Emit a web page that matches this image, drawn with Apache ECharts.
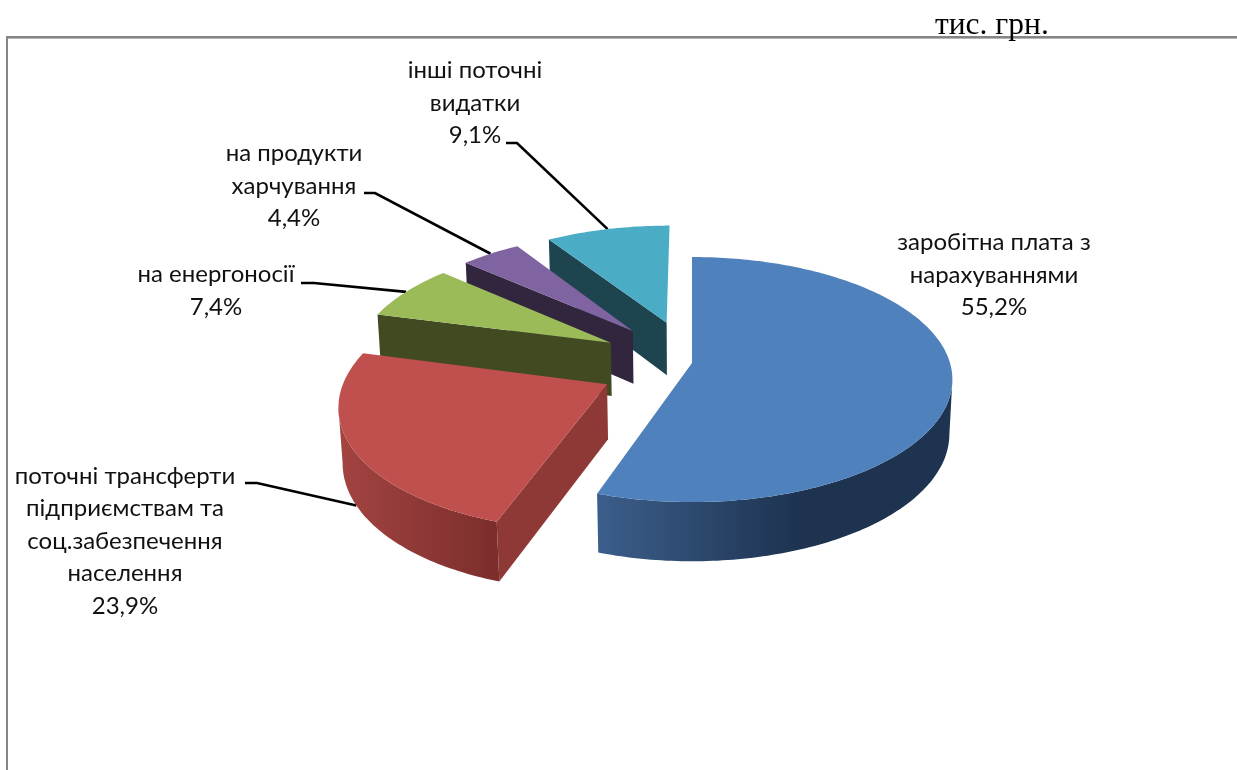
<!DOCTYPE html>
<html>
<head>
<meta charset="utf-8">
<style>
  html, body { margin: 0; padding: 0; background: #fff; }
  #chart { width: 1237px; height: 770px; }
</style>
</head>
<body>
<div id="chart"></div>
<script src="https://cdn.jsdelivr.net/npm/echarts@6/dist/echarts.min.js"></script>
<script>
const categories = [
  'заробітна плата з\nнарахуваннями',
  'поточні трансферти\nпідприємствам та\nсоц.забезпечення\nнаселення',
  'на енергоносії',
  'на продукти\nхарчування',
  'інші поточні\nвидатки'
];
const shares = [55.2, 23.9, 7.4, 4.4, 9.1];
const unit = 'тис. грн.';

// slice pull-out, in pie radii
const explode = [0, 0.365, 0.365, 0.365, 0.365];

const topColors = ['#4f81bd', '#c0504d', '#9bbb59', '#8064a2', '#4bacc6'];
const edgeColors = ['#1d3350', '#8e3936', '#414a21', '#32263f', '#1e444f'];
const wallFrom = ['#3c5e8b', '#a24441', '#414a21', '#32263f', '#1e444f'];
const wallTo = ['#1d3350', '#7c2e2c', '#414a21', '#32263f', '#1e444f'];
const wallRange = [[597, 800], [340, 495], [378, 443], [467, 518], [550, 669]];

// label block centre and the elbow of the leader line
const labelPos = [[994, 275], [125, 541], [216, 291], [294, 186], [475, 103]];
const leaderFrom = [null, [245, 483, 257, 483], [301, 283, 314, 283], [364, 193, 375, 193], [506, 143, 517, 143]];

// perspective of the pie plane
const PX = 692, PY = 363, SX = 258, SY = 120.3, PERSP = 0.135;
const VX = 692, VY = 3000, DEPTH = 0.0205, LEAN = 0.55;

function project(x, y) {
  const w = 1 + PERSP * y;
  return [PX + SX * x / w, PY - SY * y / w, w];
}
function drop(p) {
  const h = DEPTH / p[2];
  return [p[0] + (VX - p[0]) * h * LEAN, p[1] + (VY - p[1]) * h];
}
function area(pts) {
  let s = 0;
  pts.forEach((p, i) => {
    const q = pts[(i + 1) % pts.length];
    s += p[0] * q[1] - q[0] * p[1];
  });
  return s;
}
function rad(deg) { return deg * Math.PI / 180; }

const total = shares.reduce((a, b) => a + b, 0);
const starts = shares.map((v, i) => shares.slice(0, i).reduce((a, b) => a + b, 0) / total * 360);

function renderSlice(params, api) {
  const i = params.dataIndex;
  const a0 = starts[i];
  const a1 = a0 + api.value(0) / total * 360;
  const mid = rad((a0 + a1) / 2);
  const ox = Math.sin(mid) * explode[i], oy = Math.cos(mid) * explode[i];
  const on = (deg) => project(ox + Math.sin(rad(deg)), oy + Math.cos(rad(deg)));

  const arc = [];
  for (let d = a0; d < a1; d += 1) arc.push(on(d));
  arc.push(on(a1));
  const ctr = project(ox, oy);
  const ctrBase = drop(ctr);

  const base = (shares.length - i) * 10;
  const solid = (points, fill, z2) => ({
    type: 'polygon',
    z2: z2,
    shape: { points: points.map((p) => [p[0], p[1]]) },
    style: { fill: fill }
  });
  const children = [];

  // outer wall: only the front part of the arc, between its left and right extremes
  let kRight = 0, kLeft = 0;
  arc.forEach((p, k) => {
    if (p[0] > arc[kRight][0]) kRight = k;
    if (p[0] < arc[kLeft][0]) kLeft = k;
  });
  if (kRight < kLeft) {
    const front = arc.slice(kRight, kLeft + 1);
    const wallFill = new echarts.graphic.LinearGradient(wallRange[i][0], 0, wallRange[i][1], 0, [
      { offset: 0, color: wallFrom[i] },
      { offset: 1, color: wallTo[i] }
    ], true);
    children.push(solid(front.concat(front.map(drop).reverse()), wallFill, base));
  }

  const first = arc[0], last = arc[arc.length - 1];
  const startFace = [ctr, first, drop(first), ctrBase];
  const endFace = [ctr, last, drop(last), ctrBase];
  if (area(startFace) < -1000) children.push(solid(startFace, edgeColors[i], base + 1));
  if (area(endFace) > 1000) children.push(solid(endFace, edgeColors[i], base + 1));

  children.push(solid([ctr].concat(arc), topColors[i], base + 2));

  if (leaderFrom[i]) {
    // front slices have the line running to the bottom of the wall
    const tip = on((a0 + a1) / 2);
    const end = tip[1] > PY ? drop(tip) : tip;
    const f = leaderFrom[i];
    children.push({
      type: 'polyline',
      z2: 5,
      shape: { points: [[f[0], f[1]], [f[2], f[3]], [end[0], end[1]]] },
      style: { stroke: '#000', lineWidth: 2.6, fill: null }
    });
  }

  children.push({
    type: 'text',
    z2: 100,
    style: {
      text: categories[i] + '\n' + api.value(0).toFixed(1).replace('.', ',') + '%',
      x: labelPos[i][0],
      y: labelPos[i][1],
      align: 'center',
      verticalAlign: 'middle',
      font: '24px Lato, "Noto Sans", sans-serif',
      lineHeight: 32.5,
      fill: '#111'
    }
  });

  return { type: 'group', children: children };
}

const chart = echarts.init(document.getElementById('chart'), null, { renderer: 'canvas' });
chart.setOption({
  animation: false,
  backgroundColor: '#fff',
  graphic: [
    { type: 'rect', shape: { x: 6, y: 36, width: 1231, height: 2 }, style: { fill: '#868686' } },
    { type: 'rect', shape: { x: 6, y: 38, width: 1231, height: 1 }, style: { fill: '#b4b4b4' } },
    { type: 'rect', shape: { x: 6, y: 36, width: 2, height: 734 }, style: { fill: '#868686' } },
    {
      type: 'text',
      style: {
        text: unit,
        x: 935,
        y: 26,
        verticalAlign: 'middle',
        font: '31.5px "Liberation Serif", serif',
        fill: '#000'
      }
    }
  ],
  series: [{
    type: 'custom',
    coordinateSystem: 'none',
    silent: true,
    renderItem: renderSlice,
    data: shares
  }]
});
</script>
</body>
</html>
